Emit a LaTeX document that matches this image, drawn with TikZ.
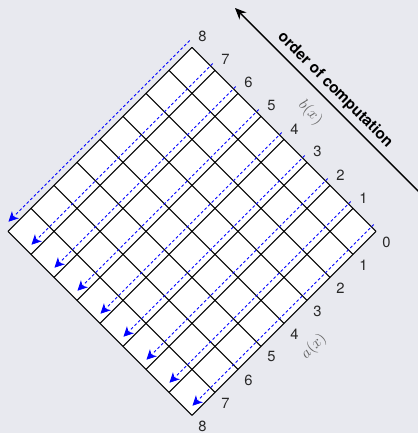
\documentclass[tikz,border=0pt]{standalone}
\usepackage{fontspec}
\setmainfont{TeX Gyre Heros}
\usetikzlibrary{arrows.meta}
\definecolor{bgGray}{RGB}{232,233,239}
\definecolor{idxGray}{RGB}{40,40,40}
\definecolor{axGray}{RGB}{100,100,100}

\begin{document}
\begin{tikzpicture}[
    cell/.style={black, line width=0.7pt},
    flow/.style={blue, line width=0.6pt, dash pattern=on 2pt off 1.6pt,
                 -{Stealth[length=7pt, width=7pt, inset=2pt]}},
    idx/.style={text=idxGray, font=\fontsize{10.5}{12}\selectfont, inner sep=0pt},
    axlbl/.style={text=axGray, font=\fontsize{10.5}{12}\selectfont, inner sep=0pt}
  ]
  \fill[bgGray] (0,0) rectangle (10.45,10.825);
  \useasboundingbox (0,0) rectangle (10.45,10.825);

  % table of a(x) and b(x), corner 0 on the right
  \begin{scope}[shift={(9.4,5.04)}, x={(-0.575cm,-0.575cm)}, y={(-0.575cm,0.575cm)}]
    \fill[white] (0,0) -- (8,0) -- (8,8) -- (0,8) -- cycle;
    \foreach \k in {0,...,8} {
      \draw[cell] (\k,0) -- (\k,8);
      \draw[cell] (0,\k) -- (8,\k);
      \node[idx] (a\k) at (\k,-0.46) {\k};
    }
    \foreach \k in {1,...,8}
      \node[idx] (b\k) at (-0.46,\k) {\k};
    \node[axlbl, rotate=45] (ax) at (3.85,-1.15) {$a(x)$};
    \node[axlbl, rotate=-45] (bx) at (-1.15,4) {$b(x)$};
    \foreach \k in {0,...,8} {
      \coordinate (s\k) at (-0.1,\k+0.2);
      \coordinate (e\k) at (7.78,\k+0.2);
      \draw[flow] (s\k) -- (e\k);
    }
  \end{scope}

  \coordinate (ordTail) at (10.8,5.7);
  \coordinate (ordHead) at (5.875,10.625);
  \draw[line width=1pt, -{Stealth[length=8pt, width=7pt]}] (ordTail) -- (ordHead);
  \node[rotate=-45, font=\fontsize{11}{13}\selectfont\bfseries] (ord) at (8.375,8.575)
       {order of computation};
\end{tikzpicture}
\end{document}
